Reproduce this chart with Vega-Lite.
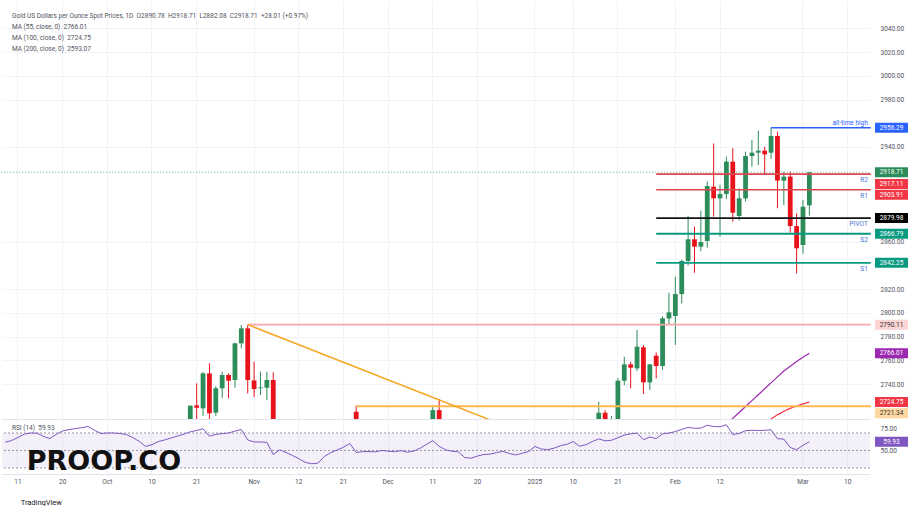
{
  "$schema": "https://vega.github.io/schema/vega-lite/v6.json",
  "padding": 0,
  "spacing": 0,
  "background": "white",
  "config": {
    "view": {"stroke": null},
    "font": "Roboto",
    "axis": {"labelFont": "Roboto", "labelColor": "#50535e", "labelFontSize": 6.5},
    "axisY": {"labelOverlap": false, "labelBound": false, "labelFlush": false}
  },
  "title": {"text": "TradingView", "orient": "bottom", "anchor": "start", "offset": 14, "dx": 20, "fontSize": 7.5, "fontWeight": "normal", "color": "#131722", "font": "Roboto"},
  "datasets": {
    "candles": [
      {"date":"2024-10-18","open":2692,"high":2722,"low":2685,"close":2721.7},
      {"date":"2024-10-21","open":2722,"high":2740.6,"low":2704,"close":2720},
      {"date":"2024-10-22","open":2719.5,"high":2750,"low":2713,"close":2749},
      {"date":"2024-10-23","open":2749,"high":2757.5,"low":2708,"close":2715.3},
      {"date":"2024-10-24","open":2715.8,"high":2738,"low":2713,"close":2736.4},
      {"date":"2024-10-25","open":2736.4,"high":2750.4,"low":2728,"close":2747.6},
      {"date":"2024-10-28","open":2747.6,"high":2749,"low":2728,"close":2742.8},
      {"date":"2024-10-29","open":2743.4,"high":2775,"low":2737,"close":2774.3},
      {"date":"2024-10-30","open":2774.3,"high":2789.8,"low":2770,"close":2787},
      {"date":"2024-10-31","open":2787,"high":2790.11,"low":2732,"close":2743.4},
      {"date":"2024-11-01","open":2743,"high":2758.8,"low":2729,"close":2735.8},
      {"date":"2024-11-04","open":2736.5,"high":2750.4,"low":2730.7,"close":2737.2},
      {"date":"2024-11-05","open":2736.9,"high":2750.4,"low":2726.5,"close":2743.4},
      {"date":"2024-11-06","open":2743.4,"high":2749.9,"low":2652,"close":2659},
      {"date":"2024-11-25","open":2716.6,"high":2722,"low":2605,"close":2625},
      {"date":"2024-12-11","open":2694,"high":2721,"low":2690,"close":2718},
      {"date":"2024-12-12","open":2718,"high":2727,"low":2678,"close":2681},
      {"date":"2025-01-16","open":2697,"high":2725,"low":2689,"close":2715.8},
      {"date":"2025-01-17","open":2715.8,"high":2718,"low":2697,"close":2702},
      {"date":"2025-01-20","open":2702,"high":2713,"low":2696,"close":2708},
      {"date":"2025-01-21","open":2708,"high":2745,"low":2700,"close":2742.8},
      {"date":"2025-01-22","open":2742.8,"high":2763,"low":2739,"close":2756.6},
      {"date":"2025-01-23","open":2756.6,"high":2758.8,"low":2736.4,"close":2753.8},
      {"date":"2025-01-24","open":2753.2,"high":2785.6,"low":2751,"close":2771.5},
      {"date":"2025-01-27","open":2771,"high":2773,"low":2731.6,"close":2741.4},
      {"date":"2025-01-28","open":2741.4,"high":2757,"low":2735,"close":2756.6},
      {"date":"2025-01-29","open":2763.9,"high":2766.7,"low":2744.8,"close":2755.2},
      {"date":"2025-01-30","open":2755.2,"high":2797,"low":2752,"close":2795.4},
      {"date":"2025-01-31","open":2795.4,"high":2817,"low":2789.8,"close":2800.5},
      {"date":"2025-02-03","open":2797.4,"high":2830.6,"low":2773,"close":2815.9},
      {"date":"2025-02-04","open":2815.9,"high":2845,"low":2808,"close":2843.8},
      {"date":"2025-02-05","open":2843.8,"high":2881.8,"low":2840,"close":2862.1},
      {"date":"2025-02-06","open":2862.1,"high":2872.7,"low":2833.9,"close":2855.9},
      {"date":"2025-02-07","open":2855.9,"high":2886.2,"low":2852,"close":2859.8},
      {"date":"2025-02-10","open":2860.7,"high":2910.8,"low":2855,"close":2907.1},
      {"date":"2025-02-11","open":2906.5,"high":2943,"low":2881.2,"close":2896.7},
      {"date":"2025-02-12","open":2896.7,"high":2908,"low":2864.3,"close":2900.3},
      {"date":"2025-02-13","open":2900.3,"high":2932,"low":2896,"close":2927.6},
      {"date":"2025-02-14","open":2927.6,"high":2939,"low":2877,"close":2884.6},
      {"date":"2025-02-17","open":2881.8,"high":2905,"low":2878,"close":2896.7},
      {"date":"2025-02-18","open":2896.7,"high":2936,"low":2894,"close":2932.4},
      {"date":"2025-02-19","open":2932.4,"high":2945.9,"low":2923.4,"close":2935.2},
      {"date":"2025-02-20","open":2935.2,"high":2953.8,"low":2924.8,"close":2936.9},
      {"date":"2025-02-21","open":2936.9,"high":2940.3,"low":2916.4,"close":2933.8},
      {"date":"2025-02-24","open":2935.2,"high":2956.29,"low":2930,"close":2949.3},
      {"date":"2025-02-25","open":2949.3,"high":2952.9,"low":2888.3,"close":2911.6},
      {"date":"2025-02-26","open":2911.6,"high":2919.2,"low":2891,"close":2915},
      {"date":"2025-02-27","open":2915,"high":2919.2,"low":2867.7,"close":2873.3},
      {"date":"2025-02-28","open":2873.3,"high":2884,"low":2833.4,"close":2854.5},
      {"date":"2025-03-03","open":2857.3,"high":2895.3,"low":2850,"close":2889.6},
      {"date":"2025-03-04","open":2890.78,"high":2918.71,"low":2882.08,"close":2918.71}
    ],
    "ma": [
      {"date":"2025-02-13","ma":"MA (55, close, 0)","value":2706},
      {"date":"2025-02-14","ma":"MA (55, close, 0)","value":2711},
      {"date":"2025-02-17","ma":"MA (55, close, 0)","value":2716},
      {"date":"2025-02-18","ma":"MA (55, close, 0)","value":2721},
      {"date":"2025-02-19","ma":"MA (55, close, 0)","value":2726},
      {"date":"2025-02-20","ma":"MA (55, close, 0)","value":2731},
      {"date":"2025-02-21","ma":"MA (55, close, 0)","value":2736},
      {"date":"2025-02-24","ma":"MA (55, close, 0)","value":2741},
      {"date":"2025-02-25","ma":"MA (55, close, 0)","value":2746},
      {"date":"2025-02-26","ma":"MA (55, close, 0)","value":2751},
      {"date":"2025-02-27","ma":"MA (55, close, 0)","value":2755},
      {"date":"2025-02-28","ma":"MA (55, close, 0)","value":2759},
      {"date":"2025-03-03","ma":"MA (55, close, 0)","value":2762.5},
      {"date":"2025-03-04","ma":"MA (55, close, 0)","value":2766.01},
      {"date":"2025-02-21","ma":"MA (100, close, 0)","value":2707},
      {"date":"2025-02-24","ma":"MA (100, close, 0)","value":2710.5},
      {"date":"2025-02-25","ma":"MA (100, close, 0)","value":2714},
      {"date":"2025-02-26","ma":"MA (100, close, 0)","value":2717},
      {"date":"2025-02-27","ma":"MA (100, close, 0)","value":2719.5},
      {"date":"2025-02-28","ma":"MA (100, close, 0)","value":2721.5},
      {"date":"2025-03-03","ma":"MA (100, close, 0)","value":2723.2},
      {"date":"2025-03-04","ma":"MA (100, close, 0)","value":2724.75}
    ],
    "levels": [
      {"name":"all-time high","price":2956.29,"start":"2025-02-24"},
      {"name":"R2","price":2917.11,"start":"2025-01-29"},
      {"name":"R1","price":2903.91,"start":"2025-01-29"},
      {"name":"PIVOT","price":2879.98,"start":"2025-01-29"},
      {"name":"S2","price":2866.79,"start":"2025-01-29"},
      {"name":"S1","price":2842.25,"start":"2025-01-29"},
      {"name":"Oct 31 high","price":2790.11,"start":"2024-10-31"},
      {"name":"Nov 25 high","price":2721.34,"start":"2024-11-25"}
    ],
    "trend": [
      {"date":"2024-10-31","price":2790.11},
      {"date":"2024-12-31","price":2699.1}
    ],
    "tags": [
      {"name":"all-time high","price":2956.29},
      {"name":"close","price":2918.71},
      {"name":"R2","price":2917.11},
      {"name":"R1","price":2903.91},
      {"name":"PIVOT","price":2879.98},
      {"name":"S2","price":2866.79},
      {"name":"S1","price":2842.25},
      {"name":"Oct 31 high","price":2790.11},
      {"name":"MA (55)","price":2766.01},
      {"name":"MA (100)","price":2724.75},
      {"name":"Nov 25 high","price":2721.34}
    ],
    "rsi": [
      {"date":"2024-09-09","rsi":59.5},{"date":"2024-09-10","rsi":61.3},{"date":"2024-09-11","rsi":64.9},{"date":"2024-09-12","rsi":68.7},{"date":"2024-09-13","rsi":70.0},
      {"date":"2024-09-16","rsi":69.8},{"date":"2024-09-17","rsi":66.1},{"date":"2024-09-18","rsi":63.6},{"date":"2024-09-19","rsi":68.5},{"date":"2024-09-20","rsi":72.3},
      {"date":"2024-09-23","rsi":73.9},{"date":"2024-09-24","rsi":75.0},{"date":"2024-09-25","rsi":76.1},{"date":"2024-09-26","rsi":77.5},{"date":"2024-09-27","rsi":73.1},
      {"date":"2024-09-30","rsi":69.4},{"date":"2024-10-01","rsi":70.0},{"date":"2024-10-02","rsi":70.0},{"date":"2024-10-03","rsi":69.4},{"date":"2024-10-04","rsi":68.2},
      {"date":"2024-10-07","rsi":64.7},{"date":"2024-10-08","rsi":60.4},{"date":"2024-10-09","rsi":54.6},{"date":"2024-10-10","rsi":56.7},{"date":"2024-10-11","rsi":60.2},
      {"date":"2024-10-14","rsi":62.1},{"date":"2024-10-15","rsi":64.3},{"date":"2024-10-16","rsi":66.5},{"date":"2024-10-17","rsi":68.7},{"date":"2024-10-18","rsi":71.3},
      {"date":"2024-10-21","rsi":72.9},{"date":"2024-10-22","rsi":74.9},{"date":"2024-10-23","rsi":66.3},{"date":"2024-10-24","rsi":68.4},{"date":"2024-10-25","rsi":69.3},
      {"date":"2024-10-28","rsi":70.0},{"date":"2024-10-29","rsi":72.1},{"date":"2024-10-30","rsi":74.0},{"date":"2024-10-31","rsi":62.1},{"date":"2024-11-01","rsi":59.7},
      {"date":"2024-11-04","rsi":59.7},{"date":"2024-11-05","rsi":59.3},{"date":"2024-11-06","rsi":45.4},{"date":"2024-11-07","rsi":50.7},{"date":"2024-11-08","rsi":47.8},
      {"date":"2024-11-11","rsi":44.3},{"date":"2024-11-12","rsi":40.6},{"date":"2024-11-13","rsi":36.5},{"date":"2024-11-14","rsi":34.8},{"date":"2024-11-15","rsi":35.5},
      {"date":"2024-11-18","rsi":43.1},{"date":"2024-11-19","rsi":47.5},{"date":"2024-11-20","rsi":50.5},{"date":"2024-11-21","rsi":53.7},{"date":"2024-11-22","rsi":58.0},
      {"date":"2024-11-25","rsi":47.6},{"date":"2024-11-26","rsi":48.7},{"date":"2024-11-27","rsi":48.7},{"date":"2024-11-28","rsi":48.5},{"date":"2024-11-29","rsi":50.0},
      {"date":"2024-12-02","rsi":49.2},{"date":"2024-12-03","rsi":48.6},{"date":"2024-12-04","rsi":49.8},{"date":"2024-12-05","rsi":48.1},{"date":"2024-12-06","rsi":49.3},
      {"date":"2024-12-09","rsi":52.5},{"date":"2024-12-10","rsi":56.9},{"date":"2024-12-11","rsi":61.2},{"date":"2024-12-12","rsi":54.7},{"date":"2024-12-13","rsi":50.8},
      {"date":"2024-12-16","rsi":49.1},{"date":"2024-12-17","rsi":48.5},{"date":"2024-12-18","rsi":42.0},{"date":"2024-12-19","rsi":41.2},{"date":"2024-12-20","rsi":43.6},
      {"date":"2024-12-23","rsi":45.4},{"date":"2024-12-24","rsi":45.9},{"date":"2024-12-25","rsi":47.5},{"date":"2024-12-26","rsi":49.1},{"date":"2024-12-27","rsi":46.5},
      {"date":"2024-12-30","rsi":44.9},{"date":"2024-12-31","rsi":46.9},{"date":"2025-01-01","rsi":48.7},{"date":"2025-01-02","rsi":54.6},{"date":"2025-01-03","rsi":51.7},
      {"date":"2025-01-06","rsi":50.9},{"date":"2025-01-07","rsi":52.7},{"date":"2025-01-08","rsi":55.5},{"date":"2025-01-09","rsi":57.0},{"date":"2025-01-10","rsi":60.2},
      {"date":"2025-01-13","rsi":54.8},{"date":"2025-01-14","rsi":56.7},{"date":"2025-01-15","rsi":60.2},{"date":"2025-01-16","rsi":63.3},{"date":"2025-01-17","rsi":61.0},
      {"date":"2025-01-20","rsi":61.7},{"date":"2025-01-21","rsi":64.6},{"date":"2025-01-22","rsi":67.6},{"date":"2025-01-23","rsi":69.0},{"date":"2025-01-24","rsi":69.9},
      {"date":"2025-01-27","rsi":62.3},{"date":"2025-01-28","rsi":65.4},{"date":"2025-01-29","rsi":63.6},{"date":"2025-01-30","rsi":69.1},{"date":"2025-01-31","rsi":69.9},
      {"date":"2025-02-03","rsi":71.6},{"date":"2025-02-04","rsi":74.1},{"date":"2025-02-05","rsi":76.4},{"date":"2025-02-06","rsi":75.4},{"date":"2025-02-07","rsi":75.6},
      {"date":"2025-02-10","rsi":78.9},{"date":"2025-02-11","rsi":77.4},{"date":"2025-02-12","rsi":77.1},{"date":"2025-02-13","rsi":79.4},{"date":"2025-02-14","rsi":68.3},
      {"date":"2025-02-17","rsi":69.5},{"date":"2025-02-18","rsi":72.6},{"date":"2025-02-19","rsi":73.1},{"date":"2025-02-20","rsi":72.9},{"date":"2025-02-21","rsi":73.0},
      {"date":"2025-02-24","rsi":73.7},{"date":"2025-02-25","rsi":63.5},{"date":"2025-02-26","rsi":63.0},{"date":"2025-02-27","rsi":53.4},{"date":"2025-02-28","rsi":50.9},
      {"date":"2025-03-03","rsi":55.9},{"date":"2025-03-04","rsi":59.93}
    ]
  },
  "vconcat": [
    {
      "width": 868,
      "height": 419,
      "title": {
        "text": "Gold US Dollars per Ounce Spot Prices, 1D\u00a0\u00a0O2890.78\u00a0\u00a0H2918.71\u00a0\u00a0L2882.08\u00a0\u00a0C2918.71\u00a0\u00a0+28.01 (+0.97%)",
        "subtitle": ["MA (55, close, 0)\u00a0\u00a02766.01", "MA (100, close, 0)\u00a0\u00a02724.75", "MA (200, close, 0)\u00a0\u00a02593.07"],
        "anchor": "start", "frame": "group", "orient": "top", "offset": -52, "dx": 10,
        "font": "Roboto", "fontSize": 6.5, "fontWeight": "normal", "color": "#50535e",
        "subtitleFont": "Roboto", "subtitleFontSize": 6.5, "subtitleColor": "#50535e", "subtitlePadding": 4, "subtitleLineHeight": 11
      },
      "resolve": {"axis": {"y": "independent"}},
      "encoding": {
        "x": {
          "field": "date", "type": "ordinal",
          "scale": {"type": "band", "paddingInner": 0, "paddingOuter": 0, "domain": [
            "2024-09-09","2024-09-10","2024-09-11","2024-09-12","2024-09-13","2024-09-16","2024-09-17","2024-09-18","2024-09-19","2024-09-20","2024-09-23","2024-09-24","2024-09-25","2024-09-26","2024-09-27","2024-09-30",
            "2024-10-01","2024-10-02","2024-10-03","2024-10-04","2024-10-07","2024-10-08","2024-10-09","2024-10-10","2024-10-11","2024-10-14","2024-10-15","2024-10-16","2024-10-17","2024-10-18","2024-10-21","2024-10-22","2024-10-23","2024-10-24","2024-10-25","2024-10-28","2024-10-29","2024-10-30","2024-10-31",
            "2024-11-01","2024-11-04","2024-11-05","2024-11-06","2024-11-07","2024-11-08","2024-11-11","2024-11-12","2024-11-13","2024-11-14","2024-11-15","2024-11-18","2024-11-19","2024-11-20","2024-11-21","2024-11-22","2024-11-25","2024-11-26","2024-11-27","2024-11-28","2024-11-29",
            "2024-12-02","2024-12-03","2024-12-04","2024-12-05","2024-12-06","2024-12-09","2024-12-10","2024-12-11","2024-12-12","2024-12-13","2024-12-16","2024-12-17","2024-12-18","2024-12-19","2024-12-20","2024-12-23","2024-12-24","2024-12-25","2024-12-26","2024-12-27","2024-12-30","2024-12-31",
            "2025-01-01","2025-01-02","2025-01-03","2025-01-06","2025-01-07","2025-01-08","2025-01-09","2025-01-10","2025-01-13","2025-01-14","2025-01-15","2025-01-16","2025-01-17","2025-01-20","2025-01-21","2025-01-22","2025-01-23","2025-01-24","2025-01-27","2025-01-28","2025-01-29","2025-01-30","2025-01-31",
            "2025-02-03","2025-02-04","2025-02-05","2025-02-06","2025-02-07","2025-02-10","2025-02-11","2025-02-12","2025-02-13","2025-02-14","2025-02-17","2025-02-18","2025-02-19","2025-02-20","2025-02-21","2025-02-24","2025-02-25","2025-02-26","2025-02-27","2025-02-28",
            "2025-03-03","2025-03-04","2025-03-05","2025-03-06","2025-03-07","2025-03-08","2025-03-09","2025-03-10","2025-03-11","2025-03-12","2025-03-13"]},
          "axis": {
            "title": null, "labels": false, "ticks": false, "domain": true, "domainColor": "#e0e3eb",
            "grid": true, "gridColor": "#f2f3f6", "bandPosition": 0.5,
            "values": ["2024-09-11","2024-09-20","2024-10-01","2024-10-10","2024-10-21","2024-11-01","2024-11-12","2024-11-21","2024-12-02","2024-12-11","2024-12-20","2025-01-02","2025-01-10","2025-01-21","2025-02-03","2025-02-12","2025-03-03","2025-03-10"]
          }
        }
      },
      "layer": [
        {
          "data": {"name": "candles"},
          "mark": {"type": "rule", "clip": true, "strokeWidth": 1},
          "encoding": {
            "y": {"field": "low", "type": "quantitative",
              "scale": {"domain": [2710.5, 3064], "nice": false, "zero": false},
              "axis": {"orient": "right", "title": null, "values": [2740,2760,2780,2800,2820,2860,2940,2980,3000,3020,3040],
                "format": ".2f", "ticks": false, "domain": false, "labelPadding": 10, "labelOverlap": false, "labelBound": false, "grid": true, "gridColor": "#f2f3f6"}},
            "y2": {"field": "high"},
            "color": {"condition": {"test": "datum.close >= datum.open", "value": "#2c8c5a"}, "value": "#e8121b"}
          }
        },
        {
          "data": {"name": "candles"},
          "mark": {"type": "bar", "clip": true, "width": {"band": 0.75}},
          "encoding": {
            "y": {"field": "open", "type": "quantitative", "axis": null},
            "y2": {"field": "close"},
            "color": {"condition": {"test": "datum.close >= datum.open", "value": "#2c8c5a"}, "value": "#e8121b"}
          }
        },
        {
          "data": {"name": "ma"},
          "mark": {"type": "line", "clip": true, "strokeWidth": 1.2},
          "encoding": {
            "y": {"field": "value", "type": "quantitative", "axis": null},
            "color": {"field": "ma", "type": "nominal", "legend": null,
              "scale": {"domain": ["MA (55, close, 0)", "MA (100, close, 0)"], "range": ["#9c27b0", "#f23645"]}}
          }
        },
        {
          "data": {"name": "levels"},
          "mark": {"type": "rule", "x2Offset": 4},
          "encoding": {
            "x": {"field": "start", "type": "ordinal"},
            "x2": {"datum": "2025-03-13"},
            "y": {"field": "price", "type": "quantitative", "axis": null},
            "stroke": {"field": "name", "type": "nominal", "legend": null,
              "scale": {"domain": ["all-time high","R2","R1","PIVOT","S2","S1","Oct 31 high","Nov 25 high"],
                        "range": ["#2962ff","#e0454f","#e0454f","#131313","#089981","#089981","#f7a8a8","#ffb74d"]}},
            "strokeWidth": {"field": "name", "type": "nominal", "legend": null,
              "scale": {"domain": ["all-time high","R2","R1","PIVOT","S2","S1","Oct 31 high","Nov 25 high"],
                        "range": [1.5, 2, 1.5, 2, 1.5, 1.5, 1, 1.2]}}
          }
        },
        {
          "data": {"name": "trend"},
          "mark": {"type": "line", "clip": true, "strokeWidth": 1.5, "color": "#f5a623"},
          "encoding": {
            "y": {"field": "price", "type": "quantitative", "axis": null}
          }
        },
        {
          "data": {"name": "candles"},
          "transform": [{"filter": "datum.date == '2025-03-04'"}],
          "mark": {"type": "rule", "strokeDash": [1, 2], "color": "#3a9a78", "opacity": 0.8, "xOffset": -4, "x2Offset": 4},
          "encoding": {
            "x": {"datum": "2024-09-09", "type": "ordinal"},
            "x2": {"datum": "2025-03-13"},
            "y": {"field": "close", "type": "quantitative", "axis": null}
          }
        },
        {
          "data": {"name": "levels"},
          "transform": [{"filter": "indexof(['R2','R1','PIVOT','S2','S1'], datum.name) >= 0"}],
          "mark": {"type": "text", "align": "right", "baseline": "top", "dx": 1, "dy": 3, "fontSize": 6.5, "color": "#4d74d9", "font": "Roboto"},
          "encoding": {
            "x": {"datum": "2025-03-13", "type": "ordinal"},
            "y": {"field": "price", "type": "quantitative", "axis": null},
            "text": {"field": "name"}
          }
        },
        {
          "data": {"name": "levels"},
          "transform": [{"filter": "datum.name == 'all-time high'"}],
          "mark": {"type": "text", "align": "right", "baseline": "bottom", "dx": 1, "dy": -2, "fontSize": 6.5, "color": "#2962ff", "font": "Roboto"},
          "encoding": {
            "x": {"datum": "2025-03-13", "type": "ordinal"},
            "y": {"field": "price", "type": "quantitative", "axis": null},
            "text": {"field": "name"}
          }
        },
        {
          "data": {"name": "tags"},
          "transform": [{"filter": "indexof(['R2','R1','Nov 25 high'], datum.name) < 0"}],
          "mark": {"type": "point", "filled": true, "opacity": 1, "size": 400, "strokeWidth": 0, "xOffset": 24.7,
                   "shape": "M-1.65,-0.5L1.65,-0.5L1.65,0.5L-1.65,0.5Z"},
          "encoding": {
            "x": {"datum": "2025-03-13", "type": "ordinal"},
            "y": {"field": "price", "type": "quantitative", "axis": null},
            "fill": {"field": "name", "type": "nominal", "legend": null,
              "scale": {"domain": ["all-time high","close","R2","R1","PIVOT","S2","S1","Oct 31 high","MA (55)","MA (100)","Nov 25 high"],
                        "range": ["#2962ff","#2c8c5a","#f23645","#f23645","#000000","#089981","#089981","#fcd4d4","#9c27b0","#f23645","#fdd6a0"]}}
          }
        },
        {
          "data": {"name": "tags"},
          "transform": [{"filter": "indexof(['R2','R1','Nov 25 high'], datum.name) < 0"}],
          "mark": {"type": "text", "align": "center", "baseline": "middle", "xOffset": 24.7, "fontSize": 6.5, "font": "Roboto"},
          "encoding": {
            "x": {"datum": "2025-03-13", "type": "ordinal"},
            "y": {"field": "price", "type": "quantitative", "axis": null},
            "text": {"field": "price", "type": "quantitative", "format": ".2f"},
            "color": {"condition": {"test": "datum.name == 'Oct 31 high' || datum.name == 'Nov 25 high'", "value": "#333333"}, "value": "#ffffff"}
          }
        },
        {
          "data": {"name": "tags"},
          "transform": [{"filter": "datum.name == 'R2'"}],
          "mark": {"type": "point", "filled": true, "opacity": 1, "size": 400, "strokeWidth": 0, "xOffset": 24.7, "yOffset": 10, "color": "#f23645",
                   "shape": "M-1.65,-0.5L1.65,-0.5L1.65,0.5L-1.65,0.5Z"},
          "encoding": {
            "x": {"datum": "2025-03-13", "type": "ordinal"},
            "y": {"field": "price", "type": "quantitative", "axis": null}
          }
        },
        {
          "data": {"name": "tags"},
          "transform": [{"filter": "datum.name == 'R2'"}],
          "mark": {"type": "text", "align": "center", "baseline": "middle", "xOffset": 24.7, "yOffset": 10, "fontSize": 6.5, "font": "Roboto", "color": "#ffffff"},
          "encoding": {
            "x": {"datum": "2025-03-13", "type": "ordinal"},
            "y": {"field": "price", "type": "quantitative", "axis": null},
            "text": {"field": "price", "type": "quantitative", "format": ".2f"}
          }
        },
        {
          "data": {"name": "tags"},
          "transform": [{"filter": "datum.name == 'R1'"}],
          "mark": {"type": "point", "filled": true, "opacity": 1, "size": 400, "strokeWidth": 0, "xOffset": 24.7, "yOffset": 5, "color": "#f23645",
                   "shape": "M-1.65,-0.5L1.65,-0.5L1.65,0.5L-1.65,0.5Z"},
          "encoding": {
            "x": {"datum": "2025-03-13", "type": "ordinal"},
            "y": {"field": "price", "type": "quantitative", "axis": null}
          }
        },
        {
          "data": {"name": "tags"},
          "transform": [{"filter": "datum.name == 'R1'"}],
          "mark": {"type": "text", "align": "center", "baseline": "middle", "xOffset": 24.7, "yOffset": 5, "fontSize": 6.5, "font": "Roboto", "color": "#ffffff"},
          "encoding": {
            "x": {"datum": "2025-03-13", "type": "ordinal"},
            "y": {"field": "price", "type": "quantitative", "axis": null},
            "text": {"field": "price", "type": "quantitative", "format": ".2f"}
          }
        },
        {
          "data": {"name": "tags"},
          "transform": [{"filter": "datum.name == 'Nov 25 high'"}],
          "mark": {"type": "point", "filled": true, "opacity": 1, "size": 400, "strokeWidth": 0, "xOffset": 24.7, "yOffset": 7, "color": "#fdd6a0",
                   "shape": "M-1.65,-0.5L1.65,-0.5L1.65,0.5L-1.65,0.5Z"},
          "encoding": {
            "x": {"datum": "2025-03-13", "type": "ordinal"},
            "y": {"field": "price", "type": "quantitative", "axis": null}
          }
        },
        {
          "data": {"name": "tags"},
          "transform": [{"filter": "datum.name == 'Nov 25 high'"}],
          "mark": {"type": "text", "align": "center", "baseline": "middle", "xOffset": 24.7, "yOffset": 7, "fontSize": 6.5, "font": "Roboto", "color": "#333333"},
          "encoding": {
            "x": {"datum": "2025-03-13", "type": "ordinal"},
            "y": {"field": "price", "type": "quantitative", "axis": null},
            "text": {"field": "price", "type": "quantitative", "format": ".2f"}
          }
        }
      ]
    },
    {
      "width": 868,
      "height": 55,
      "title": {
        "text": "RSI (14)\u00a0\u00a059.93",
        "subtitle": "\u200b\u00a0\u2009PROOP.CO",
        "anchor": "start", "frame": "group", "orient": "top", "offset": -56, "dx": 10,
        "font": "Roboto", "fontSize": 6.5, "fontWeight": "normal", "color": "#50535e",
        "subtitleFont": "DejaVu Sans", "subtitleFontSize": 27, "subtitleFontWeight": "bold", "subtitleColor": "#111111", "subtitlePadding": 18
      },
      "layer": [
        {
          "data": {"values": [{"upper": 70, "lower": 30}]},
          "mark": {"type": "rect", "color": "#7e57c2", "opacity": 0.09},
          "encoding": {
            "y": {"field": "upper", "type": "quantitative",
              "scale": {"domain": [23.1, 86], "nice": false, "zero": false},
              "axis": {"orient": "right", "title": null, "values": [75, 50], "format": ".2f", "ticks": false, "domain": false, "grid": false, "labelPadding": 10, "labelOverlap": false, "labelBound": false}},
            "y2": {"field": "lower"}
          }
        },
        {
          "data": {"values": [{"level": 70}, {"level": 50}, {"level": 30}]},
          "mark": {"type": "rule", "strokeDash": [2, 2], "color": "#9598a1", "strokeWidth": 1},
          "encoding": {
            "y": {"field": "level", "type": "quantitative"}
          }
        },
        {
          "data": {"name": "rsi"},
          "mark": {"type": "line", "color": "#7e57c2", "strokeWidth": 1},
          "encoding": {
            "x": {
              "field": "date", "type": "ordinal",
              "scale": {"type": "band", "paddingInner": 0, "paddingOuter": 0, "domain": [
                "2024-09-09","2024-09-10","2024-09-11","2024-09-12","2024-09-13","2024-09-16","2024-09-17","2024-09-18","2024-09-19","2024-09-20","2024-09-23","2024-09-24","2024-09-25","2024-09-26","2024-09-27","2024-09-30",
                "2024-10-01","2024-10-02","2024-10-03","2024-10-04","2024-10-07","2024-10-08","2024-10-09","2024-10-10","2024-10-11","2024-10-14","2024-10-15","2024-10-16","2024-10-17","2024-10-18","2024-10-21","2024-10-22","2024-10-23","2024-10-24","2024-10-25","2024-10-28","2024-10-29","2024-10-30","2024-10-31",
                "2024-11-01","2024-11-04","2024-11-05","2024-11-06","2024-11-07","2024-11-08","2024-11-11","2024-11-12","2024-11-13","2024-11-14","2024-11-15","2024-11-18","2024-11-19","2024-11-20","2024-11-21","2024-11-22","2024-11-25","2024-11-26","2024-11-27","2024-11-28","2024-11-29",
                "2024-12-02","2024-12-03","2024-12-04","2024-12-05","2024-12-06","2024-12-09","2024-12-10","2024-12-11","2024-12-12","2024-12-13","2024-12-16","2024-12-17","2024-12-18","2024-12-19","2024-12-20","2024-12-23","2024-12-24","2024-12-25","2024-12-26","2024-12-27","2024-12-30","2024-12-31",
                "2025-01-01","2025-01-02","2025-01-03","2025-01-06","2025-01-07","2025-01-08","2025-01-09","2025-01-10","2025-01-13","2025-01-14","2025-01-15","2025-01-16","2025-01-17","2025-01-20","2025-01-21","2025-01-22","2025-01-23","2025-01-24","2025-01-27","2025-01-28","2025-01-29","2025-01-30","2025-01-31",
                "2025-02-03","2025-02-04","2025-02-05","2025-02-06","2025-02-07","2025-02-10","2025-02-11","2025-02-12","2025-02-13","2025-02-14","2025-02-17","2025-02-18","2025-02-19","2025-02-20","2025-02-21","2025-02-24","2025-02-25","2025-02-26","2025-02-27","2025-02-28",
                "2025-03-03","2025-03-04","2025-03-05","2025-03-06","2025-03-07","2025-03-08","2025-03-09","2025-03-10","2025-03-11","2025-03-12","2025-03-13"]},
              "axis": {
                "title": null, "ticks": false, "domain": true, "domainColor": "#e0e3eb", "labelAngle": 0,
                "grid": true, "gridColor": "#f2f3f6", "bandPosition": 0.5, "labelPadding": 4,
                "values": ["2024-09-11","2024-09-20","2024-10-01","2024-10-10","2024-10-21","2024-11-01","2024-11-12","2024-11-21","2024-12-02","2024-12-11","2024-12-20","2025-01-02","2025-01-10","2025-01-21","2025-02-03","2025-02-12","2025-03-03","2025-03-10"],
                "labelExpr": "datum.value == '2024-10-01' ? 'Oct' : datum.value == '2024-11-01' ? 'Nov' : datum.value == '2024-12-02' ? 'Dec' : datum.value == '2025-01-02' ? '2025' : datum.value == '2025-02-03' ? 'Feb' : datum.value == '2025-03-03' ? 'Mar' : substring(datum.value, 8, 10)"
              }
            },
            "y": {"field": "rsi", "type": "quantitative"}
          }
        },
        {
          "data": {"name": "rsi"},
          "transform": [{"filter": "datum.date == '2025-03-04'"}],
          "mark": {"type": "point", "filled": true, "opacity": 1, "size": 400, "strokeWidth": 0, "xOffset": 24.7, "color": "#7e57c2",
                   "shape": "M-1.65,-0.5L1.65,-0.5L1.65,0.5L-1.65,0.5Z"},
          "encoding": {
            "x": {"datum": "2025-03-13", "type": "ordinal"},
            "y": {"field": "rsi", "type": "quantitative"}
          }
        },
        {
          "data": {"name": "rsi"},
          "transform": [{"filter": "datum.date == '2025-03-04'"}],
          "mark": {"type": "text", "align": "center", "baseline": "middle", "xOffset": 24.7, "fontSize": 6.5, "font": "Roboto", "color": "#ffffff"},
          "encoding": {
            "x": {"datum": "2025-03-13", "type": "ordinal"},
            "y": {"field": "rsi", "type": "quantitative"},
            "text": {"field": "rsi", "type": "quantitative", "format": ".2f"}
          }
        }
      ]
    }
  ]
}
